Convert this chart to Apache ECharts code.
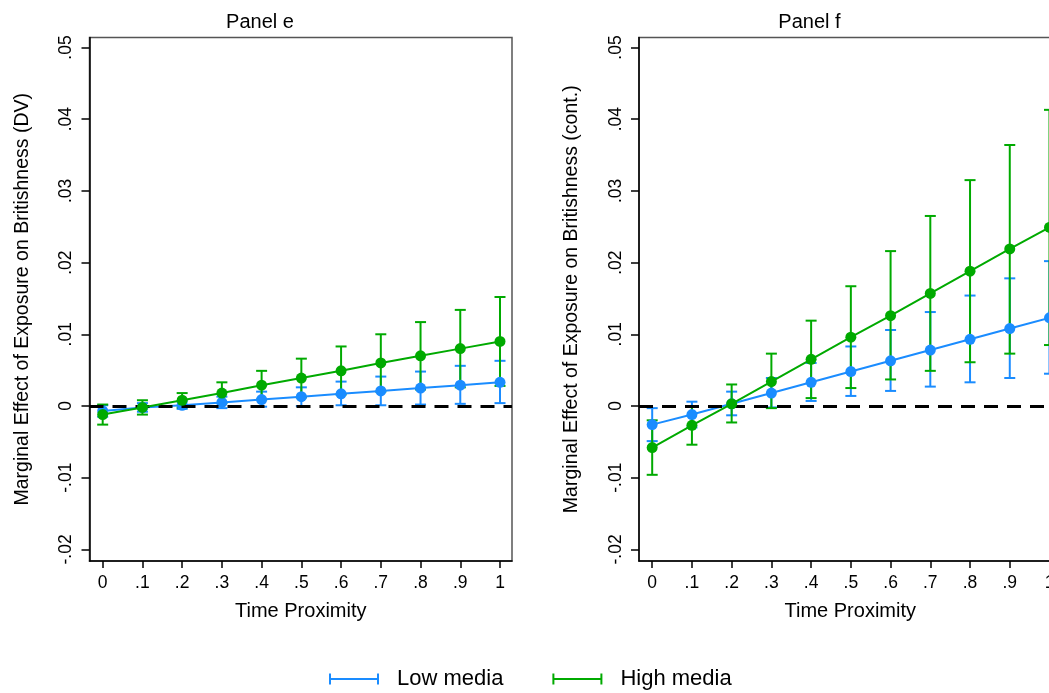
<!DOCTYPE html>
<html><head><meta charset="utf-8">
<script src="https://cdn.jsdelivr.net/npm/echarts@6/dist/echarts.min.js"></script>
<style>html,body{margin:0;padding:0;background:#fff}#c{width:1049px;height:693px}</style>
</head><body><div id="c"></div>
<script>
// ---- data ----
const xValues = [0, 0.1, 0.2, 0.3, 0.4, 0.5, 0.6, 0.7, 0.8, 0.9, 1];
const xTickLabels = ['0', '.1', '.2', '.3', '.4', '.5', '.6', '.7', '.8', '.9', '1'];
const yTickValues = [-0.02, -0.01, 0, 0.01, 0.02, 0.03, 0.04, 0.05];
const yTickLabels = ['-.02', '-.01', '0', '.01', '.02', '.03', '.04', '.05'];

// Panel e
const eLowEst = [-0.0007, -0.0002, 0.0001, 0.0005, 0.0009, 0.0013, 0.0017, 0.0021, 0.0025, 0.0029, 0.0033];
const eLowLo  = [-0.0015, -0.0008, -0.0004, -0.0003, -0.0001, 0.0000, 0.0001, 0.0001, 0.0002, 0.0003, 0.0004];
const eLowHi  = [0.0001, 0.0004, 0.0006, 0.0013, 0.0020, 0.0026, 0.0034, 0.0041, 0.0048, 0.0056, 0.0063];
const eHighEst = [-0.0012, -0.0002, 0.0008, 0.0018, 0.0029, 0.0039, 0.0049, 0.0060, 0.0070, 0.0080, 0.0090];
const eHighLo  = [-0.0026, -0.0012, -0.0002, 0.0004, 0.0009, 0.0012, 0.0016, 0.0020, 0.0023, 0.0026, 0.0028];
const eHighHi  = [0.0002, 0.0008, 0.0018, 0.0033, 0.0049, 0.0066, 0.0083, 0.0100, 0.0117, 0.0134, 0.0152];

// Panel f
const fLowEst = [-0.0026, -0.0012, 0.0003, 0.0018, 0.0033, 0.0048, 0.0063, 0.0078, 0.0093, 0.0108, 0.0123];
const fLowLo  = [-0.0049, -0.0030, -0.0013, -0.0002, 0.0007, 0.0014, 0.0021, 0.0027, 0.0033, 0.0039, 0.0045];
const fLowHi  = [-0.0003, 0.0006, 0.0020, 0.0039, 0.0060, 0.0083, 0.0106, 0.0131, 0.0154, 0.0178, 0.0202];
const fHighEst = [-0.0058, -0.0027, 0.0003, 0.0034, 0.0065, 0.0096, 0.0126, 0.0157, 0.0188, 0.0219, 0.0249];
const fHighLo  = [-0.0096, -0.0054, -0.0023, -0.0003, 0.0011, 0.0025, 0.0037, 0.0049, 0.0061, 0.0073, 0.0085];
const fHighHi  = [-0.0020, 0.0000, 0.0030, 0.0073, 0.0119, 0.0167, 0.0216, 0.0265, 0.0315, 0.0364, 0.0413];

const panelTitles = ['Panel e', 'Panel f'];
const yTitles = ['Marginal Effect of Exposure on Britishness (DV)', 'Marginal Effect of Exposure on Britishness (cont.)'];
const xTitle = 'Time Proximity';
const seriesNames = ['Low media', 'High media'];

// ---- styling ----
const BLUE = '#1a8cff';
const GREEN = '#00aa00';
const FONT = '"Liberation Sans", Arial, Helvetica, sans-serif';

const pts = (est) => xValues.map((x, i) => [x, est[i]]);
const bars = (lo, hi) => xValues.map((x, i) => [x, lo[i], hi[i]]);

function errRender(params, api) {
  const x = api.value(0), lo = api.value(1), hi = api.value(2);
  const a = api.coord([x, lo]), b = api.coord([x, hi]);
  const hw = 5.5;
  const style = { stroke: api.visual('color'), lineWidth: 2, fill: null };
  return { type: 'group', children: [
    { type: 'line', shape: { x1: a[0], y1: a[1], x2: b[0], y2: b[1] }, style },
    { type: 'line', shape: { x1: a[0] - hw, y1: a[1], x2: a[0] + hw, y2: a[1] }, style },
    { type: 'line', shape: { x1: b[0] - hw, y1: b[1], x2: b[0] + hw, y2: b[1] }, style }
  ]};
}

const grids = [
  { left: 89.5, top: 37.5, width: 422.5, height: 523.5 },
  { left: 639, top: 37.5, width: 422.5, height: 523.5 }
];

function xAxisFor(i) {
  return {
    type: 'value', gridIndex: i, min: -0.0332, max: 1.0302,
    name: xTitle, nameLocation: 'middle', nameGap: 40,
    nameTextStyle: { fontSize: 20, color: '#000', fontFamily: FONT },
    axisLine: { show: true, onZero: false, lineStyle: { color: '#000', width: 1.5 } },
    axisTick: { show: true, length: 7, lineStyle: { color: '#000', width: 1.5 }, customValues: xValues },
    axisLabel: { fontSize: 17.5, color: '#000', fontFamily: FONT, margin: 13, customValues: xValues,
      formatter: (v) => xTickLabels[Math.round(v * 10)] },
    splitLine: { show: false }
  };
}
function yAxisFor(i) {
  return {
    type: 'value', gridIndex: i, min: -0.02162, max: 0.05139,
    name: yTitles[i], nameLocation: 'middle', nameGap: 57,
    nameTextStyle: { fontSize: 19.5, color: '#000', fontFamily: FONT },
    axisLine: { show: true, onZero: false, lineStyle: { color: '#000', width: 1.5 } },
    axisTick: { show: true, length: 8, lineStyle: { color: '#000', width: 1.5 }, customValues: yTickValues },
    axisLabel: { fontSize: 17.5, color: '#000', fontFamily: FONT, margin: 14, rotate: 90, customValues: yTickValues,
      formatter: (v) => yTickLabels[Math.round(v * 100) + 2] },
    splitLine: { show: false }
  };
}

const zeroLine = {
  silent: true, symbol: 'none', animation: false,
  label: { show: false },
  lineStyle: { type: [14, 9], color: '#000', width: 3 },
  data: [{ yAxis: 0 }]
};

function panelSeries(i, lowEst, lowLo, lowHi, highEst, highLo, highHi) {
  return [
    { name: seriesNames[0], type: 'custom', xAxisIndex: i, yAxisIndex: i, renderItem: errRender,
      itemStyle: { color: BLUE }, encode: { x: 0, y: [1, 2] }, data: bars(lowLo, lowHi), z: 2,
      markLine: zeroLine },
    { name: seriesNames[1], type: 'custom', xAxisIndex: i, yAxisIndex: i, renderItem: errRender,
      itemStyle: { color: GREEN }, encode: { x: 0, y: [1, 2] }, data: bars(highLo, highHi), z: 3 },
    { name: seriesNames[0], type: 'line', xAxisIndex: i, yAxisIndex: i, data: pts(lowEst),
      symbol: 'circle', symbolSize: 11, showSymbol: true, color: BLUE,
      itemStyle: { color: BLUE }, lineStyle: { color: BLUE, width: 2 }, z: 4 },
    { name: seriesNames[1], type: 'line', xAxisIndex: i, yAxisIndex: i, data: pts(highEst),
      symbol: 'circle', symbolSize: 11, showSymbol: true, color: GREEN,
      itemStyle: { color: GREEN }, lineStyle: { color: GREEN, width: 2 }, z: 5 }
  ];
}

const capIcon = 'path://M0,0h2v11h-2z M0,4.5h50v2h-50z M48,0h2v11h-2z';

const option = {
  animation: false,
  backgroundColor: '#fff',
  textStyle: { fontFamily: FONT },
  title: [
    { text: panelTitles[0], left: 260, top: 12, textAlign: 'center', padding: 0,
      textStyle: { fontSize: 20, fontWeight: 'normal', color: '#000', fontFamily: FONT } },
    { text: panelTitles[1], left: 809.5, top: 12, textAlign: 'center', padding: 0,
      textStyle: { fontSize: 20, fontWeight: 'normal', color: '#000', fontFamily: FONT } }
  ],
  legend: {
    left: 329, top: 668, padding: 0, itemWidth: 50, itemHeight: 11, itemGap: 49, selectedMode: false,
    textStyle: { fontSize: 22, color: '#000', fontFamily: FONT, padding: [0, 0, 0, 13] },
    data: [
      { name: seriesNames[0], icon: capIcon, itemStyle: { color: BLUE, borderWidth: 0 } },
      { name: seriesNames[1], icon: capIcon, itemStyle: { color: GREEN, borderWidth: 0 } }
    ]
  },
  grid: grids.map(g => Object.assign({ show: true, borderColor: '#555', borderWidth: 1.5, backgroundColor: '#fff',
    containLabel: false, outerBoundsMode: 'none' }, g)),
  xAxis: [xAxisFor(0), xAxisFor(1)],
  yAxis: [yAxisFor(0), yAxisFor(1)],
  series: [].concat(
    panelSeries(0, eLowEst, eLowLo, eLowHi, eHighEst, eHighLo, eHighHi),
    panelSeries(1, fLowEst, fLowLo, fLowHi, fHighEst, fHighLo, fHighHi)
  )
};

const chart = echarts.init(document.getElementById('c'), null, { renderer: 'canvas' });
chart.setOption(option);
</script>
</body></html>
